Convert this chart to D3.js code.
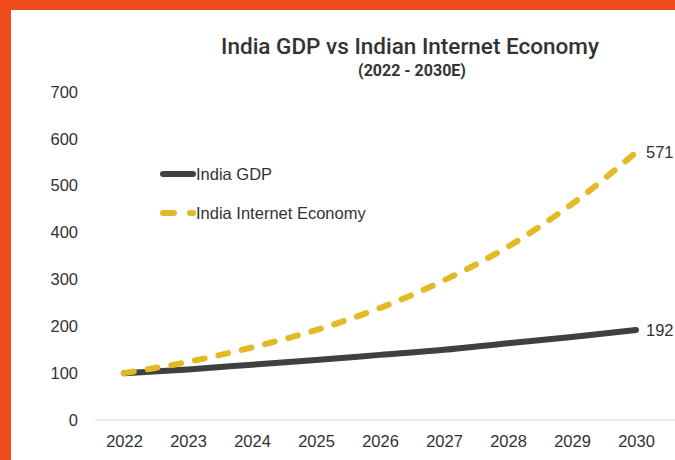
<!DOCTYPE html>
<html>
<head>
<meta charset="utf-8">
<script src="https://cdn.jsdelivr.net/npm/d3@7"></script>
<style>
  body { margin: 0; background: #fff; }
  svg { display: block; }
  .tick text { font-family: "Liberation Sans", Arial, sans-serif; font-size: 16.5px; fill: #333; }
</style>
</head>
<body>
<svg id="Vis" width="675" height="460"></svg>
<script>
/*
* DATA
*/

const years = ["2022", "2023", "2024", "2025", "2026", "2027", "2028", "2029", "2030"];
const gdp = [100, 108, 118, 128, 139, 150, 164, 177, 192];
const internetEconomy = [100, 124, 155, 192, 239, 298, 370, 461, 571];
const yTicks = [0, 100, 200, 300, 400, 500, 600, 700];

const seriesNames = ["India GDP", "India Internet Economy"];
const seriesColors = ["#404040", "#E3B925"];

/*
* SETUP
*/

const svg = d3.select("svg#Vis");

/* Orange frame */
svg.append("rect").attr("width", 675).attr("height", 460).attr("fill", "#EF4B1C");
svg.append("rect").attr("x", 11).attr("y", 10).attr("width", 664).attr("height", 450).attr("fill", "#fff");

const x = d3.scalePoint().domain(years).range([124, 636]);
const y = d3.scaleLinear().domain([0, 700]).range([420, 92]);

/* Title */
svg.append("text")
  .attr("x", 410).attr("y", 54)
  .attr("text-anchor", "middle")
  .style("font-family", "Roboto, sans-serif")
  .style("font-weight", 500)
  .style("font-size", "22.5px")
  .style("fill", "#333")
  .text("India GDP vs Indian Internet Economy");

svg.append("text")
  .attr("x", 412).attr("y", 76)
  .attr("text-anchor", "middle")
  .style("font-family", "Roboto, sans-serif")
  .style("font-weight", 700)
  .style("font-size", "16px")
  .style("fill", "#333")
  .text("(2022 - 2030E)");

/* Axes */
const yAxis = svg.append("g")
  .attr("transform", "translate(95,0)")
  .call(d3.axisLeft(y).tickValues(yTicks).tickSize(0).tickPadding(17));
yAxis.select(".domain").remove();

svg.append("line")
  .attr("x1", 95).attr("x2", 675)
  .attr("y1", y(0)).attr("y2", y(0))
  .attr("stroke", "#d9d9d9")
  .attr("stroke-width", 1);

const xAxis = svg.append("g")
  .attr("transform", "translate(0," + y(0) + ")")
  .call(d3.axisBottom(x).tickSize(0).tickPadding(15));
xAxis.select(".domain").remove();

/* Lines */
const line = d3.line()
  .x((d, i) => x(years[i]))
  .y(d => y(d))
  .curve(d3.curveMonotoneX);

svg.append("path")
  .datum(gdp)
  .attr("d", line)
  .attr("fill", "none")
  .attr("stroke", seriesColors[0])
  .attr("stroke-width", 6)
  .attr("stroke-linecap", "round");

svg.append("path")
  .datum(internetEconomy)
  .attr("d", line)
  .attr("fill", "none")
  .attr("stroke", seriesColors[1])
  .attr("stroke-width", 6)
  .attr("stroke-linecap", "round")
  .attr("stroke-dasharray", "10,14");

/* End labels */
const last = years.length - 1;
[gdp, internetEconomy].forEach(function(s) {
  svg.append("text")
    .attr("x", x(years[last]) + 10)
    .attr("y", y(s[last]))
    .attr("dy", "0.35em")
    .style("font-family", "Liberation Sans, Arial, sans-serif")
    .style("font-size", "16.5px")
    .style("fill", "#333")
    .text(s[last]);
});

/* Legend */
const legend = svg.append("g").attr("transform", "translate(160,174)");
seriesNames.forEach(function(name, i) {
  const row = legend.append("g").attr("transform", "translate(0," + (i * 39) + ")");
  row.append("line")
    .attr("x1", 3).attr("x2", 33)
    .attr("stroke", seriesColors[i])
    .attr("stroke-width", 6)
    .attr("stroke-linecap", "round")
    .attr("stroke-dasharray", i === 1 ? "11,16" : null);
  row.append("text")
    .attr("x", 36)
    .attr("dy", "0.35em")
    .style("font-family", "Liberation Sans, Arial, sans-serif")
    .style("font-size", "16.5px")
    .style("fill", "#333")
    .text(name);
});
</script>
</body>
</html>
